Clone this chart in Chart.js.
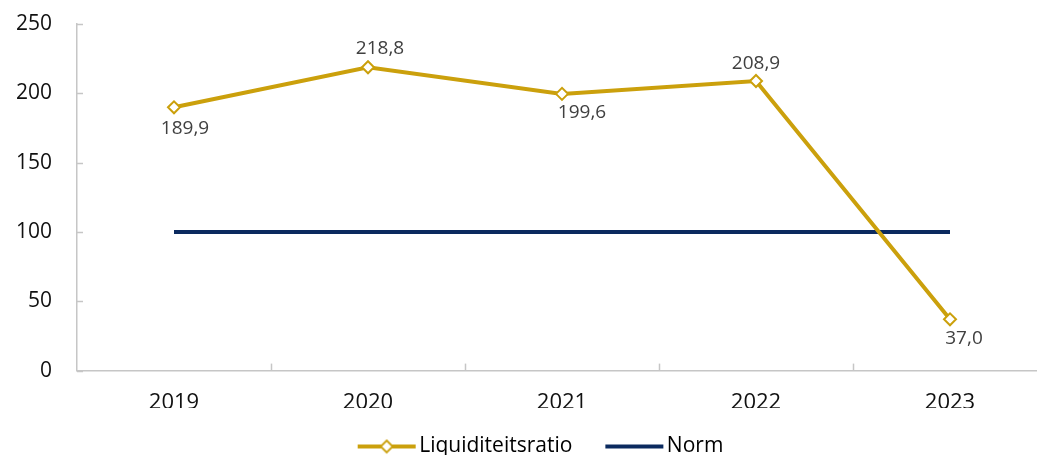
<!DOCTYPE html>
<html><head><meta charset="utf-8">
<script src="https://cdn.jsdelivr.net/npm/chart.js@4/dist/chart.umd.min.js"></script>
<style>
html,body{margin:0;padding:0;overflow:hidden;background:#fff;}
#wrap{position:absolute;left:0;top:0;width:1076px;height:467px;}
</style></head>
<body><div id="wrap"><canvas id="c"></canvas></div>
<script>
const categories = ['2019','2020','2021','2022','2023'];
const liquiditeit = [189.9, 218.8, 199.6, 208.9, 37.0];
const norm = [100, 100, 100, 100, 100];
const yTicks = [0, 50, 100, 150, 200, 250];

const GOLD = '#CBA00C', NAVY = '#0B2A5F';
const FONT = "'Open Sans', 'Noto Sans', sans-serif";

function legendIcon(color, diamond){
  const c = document.createElement('canvas');
  c.width = 72; c.height = 16;
  const g = c.getContext('2d');
  g.strokeStyle = color; g.lineWidth = 4;
  g.beginPath(); g.moveTo(13,8); g.lineTo(71,8); g.stroke();
  if (diamond){
    g.fillStyle='#fff'; g.lineWidth=1.8;
    g.beginPath(); g.moveTo(42,2); g.lineTo(48,8); g.lineTo(42,14); g.lineTo(36,8); g.closePath();
    g.fill(); g.stroke();
  }
  return c;
}

const tickPlugin = {
  id:'innerTicks',
  afterLayout(chart){
    const lg = chart.legend;
    if (lg){ lg.left += 14.5; lg.right += 14.5; }
  },
  afterDatasetsDraw(chart){
    const ctx = chart.ctx, x = chart.scales.x, y = chart.scales.y;
    ctx.save();
    ctx.strokeStyle = '#c6c6c6'; ctx.lineWidth = 1.5;
    y.ticks.forEach((t,i)=>{
      const py = Math.round(y.getPixelForTick(i))+0.5;
      ctx.beginPath(); ctx.moveTo(x.left, py); ctx.lineTo(x.left+6, py); ctx.stroke();
    });
    for (let i=1;i<categories.length;i++){
      const px = Math.round((x.getPixelForValue(i-1)+x.getPixelForValue(i))/2)+0.5;
      ctx.beginPath(); ctx.moveTo(px, y.bottom); ctx.lineTo(px, y.bottom-7); ctx.stroke();
    }
    ctx.restore();
  }
};

const labelPlugin = {
  id:'valueLabels',
  afterDatasetsDraw(chart, args, opts){
    const ctx = chart.ctx;
    const meta = chart.getDatasetMeta(0);
    ctx.save();
    ctx.font = "19px " + FONT;
    ctx.fillStyle = '#404040';
    ctx.textAlign = 'center'; ctx.textBaseline = 'middle';
    meta.data.forEach((pt,i)=>{
      const txt = liquiditeit[i].toFixed(1).replace('.', ',');
      const o = opts.offsets[i];
      ctx.fillText(txt, pt.x + o[0], pt.y + o[1]);
    });
    ctx.restore();
  }
};

new Chart(document.getElementById('c'), {
  type:'line',
  data:{
    labels: categories,
    datasets:[
      {label:'Liquiditeitsratio', data: liquiditeit, borderColor: GOLD, backgroundColor:'#fff',
       borderWidth:4, pointStyle:'rectRot', pointRadius:6, pointBorderWidth:2,
       pointBorderColor: GOLD, pointBackgroundColor:'#fff', tension:0},
      {label:'Norm', data: norm, borderColor: NAVY, backgroundColor: NAVY,
       borderWidth:4, pointRadius:0, tension:0}
    ]
  },
  options:{
    responsive:true, maintainAspectRatio:false, animation:false,
    layout:{padding:{left:0, right:29, top:24, bottom:0}},
    plugins:{
      legend:{position:'bottom', labels:{
        usePointStyle:true, pointStyleWidth:56, font:{size:21, family:FONT}, color:'#222', padding:28,
        generateLabels(chart){
          return chart.data.datasets.map((ds,i)=>({
            text: ds.label, pointStyle: legendIcon(ds.borderColor, i===0),
            fillStyle: ds.borderColor, strokeStyle: ds.borderColor, lineWidth:0,
            datasetIndex:i, hidden:false
          }));
        }
      }},
      tooltip:{enabled:false},
      title:{display:false},
      valueLabels:{offsets:[[11,21],[12,-19],[20,19],[0,-17],[14,19]]}
    },
    scales:{
      x:{offset:true, grid:{display:true, drawOnChartArea:false, drawTicks:false, color:'#c6c6c6'},
         border:{color:'#c6c6c6', width:1.5},
         afterFit(s){ s.height = s.height - 27; },
         ticks:{font:{size:22, family:FONT}, color:'#111', padding:19}},
      y:{min:0, max:250, afterBuildTicks(s){ s.ticks = yTicks.map(v=>({value:v})); },
         afterFit(s){ s.width = 77; s.paddingTop = 0; s.paddingBottom = 0; },
         grid:{display:true, drawOnChartArea:false, drawTicks:false, color:'#c6c6c6'},
         border:{color:'#c6c6c6', width:1.5},
         ticks:{font:{size:21, family:FONT}, color:'#111', padding:25}}
    }
  },
  plugins:[tickPlugin, labelPlugin]
});
</script></body></html>
